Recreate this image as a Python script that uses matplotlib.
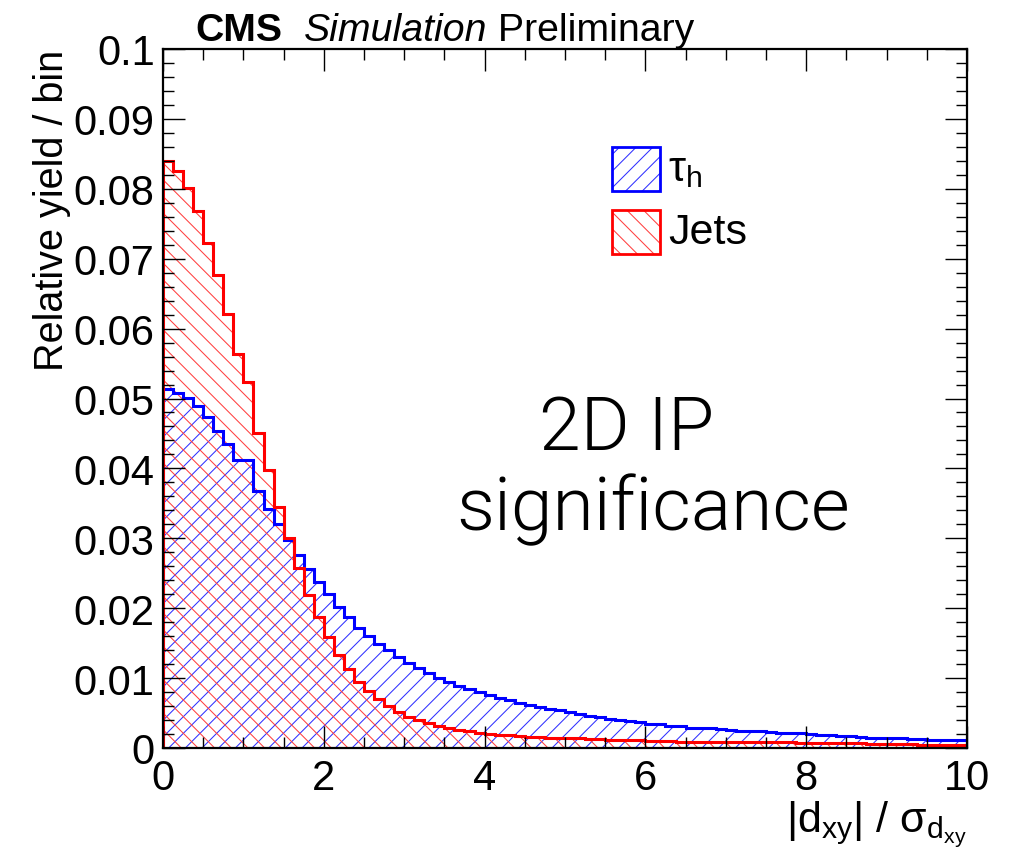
import numpy as np
import matplotlib
matplotlib.use("Agg")
import matplotlib.pyplot as plt
from matplotlib import font_manager
from matplotlib.patches import Rectangle
from matplotlib.ticker import MultipleLocator, FuncFormatter

# |d_xy| / sigma, 80 bins of 0.125 between 0 and 10
X_MIN, X_MAX, N_BINS = 0.0, 10.0, 80

tau_h = [
    0.0514, 0.0508, 0.0501, 0.0489, 0.0474, 0.0453, 0.0435, 0.0412, 0.0412, 0.0367,
    0.0342, 0.0320, 0.0297, 0.0276, 0.0256, 0.0238, 0.0220, 0.0202, 0.0188, 0.0172,
    0.0160, 0.0149, 0.0140, 0.0130, 0.0122, 0.0114, 0.0107, 0.0100, 0.0094, 0.0089,
    0.0084, 0.0080, 0.0076, 0.0072, 0.0068, 0.0065, 0.0061, 0.0058, 0.0056, 0.0054,
    0.0051, 0.0049, 0.0046, 0.0044, 0.0042, 0.0040, 0.0038, 0.0037, 0.0035, 0.0034,
    0.0032, 0.0031, 0.0029, 0.0028, 0.0028, 0.0027, 0.0026, 0.0025, 0.0024, 0.0024,
    0.0023, 0.0022, 0.0021, 0.0021, 0.0020, 0.0019, 0.0018, 0.0017, 0.0017, 0.0016,
    0.0015, 0.0015, 0.0014, 0.0014, 0.0013, 0.0013, 0.0012, 0.0012, 0.0011, 0.0011,
]

jets = [
    0.0840, 0.0825, 0.0801, 0.0768, 0.0723, 0.0676, 0.0621, 0.0564, 0.0524, 0.0450,
    0.0398, 0.0345, 0.0300, 0.0257, 0.0219, 0.0188, 0.0159, 0.0133, 0.0113, 0.0095,
    0.0081, 0.0070, 0.0060, 0.0052, 0.0045, 0.0040, 0.0036, 0.0032, 0.0029, 0.0026,
    0.0024, 0.0022, 0.0020, 0.0019, 0.0018, 0.0017, 0.0016, 0.0016, 0.0015, 0.0015,
    0.0014, 0.0014, 0.0013, 0.0013, 0.0012, 0.0012, 0.0011, 0.0011, 0.0010, 0.0010,
    0.0010, 0.0009, 0.0009, 0.0009, 0.0009, 0.0009, 0.0009, 0.0008, 0.0008, 0.0008,
    0.0008, 0.0008, 0.0008, 0.0007, 0.0007, 0.0007, 0.0007, 0.0007, 0.0007, 0.0007,
    0.0006, 0.0006, 0.0006, 0.0006, 0.0006, 0.0005, 0.0005, 0.0005, 0.0005, 0.0005,
]

labels = ["τ$_{\\mathrm{h}}$", "Jets"]
colors = ["#0000ff", "#ff0000"]
hatch_colors = ["#3030ff", "#ff4040"]
hatches = ["//", "\\\\"]

edges = np.linspace(X_MIN, X_MAX, N_BINS + 1)

SANS = "Liberation Sans"
plt.rcParams["font.family"] = [SANS, "DejaVu Sans"]
plt.rcParams["mathtext.fontset"] = "custom"
plt.rcParams["mathtext.rm"] = SANS
plt.rcParams["mathtext.it"] = SANS + ":italic"
plt.rcParams["hatch.linewidth"] = 0.75


def light_font():
    # pick a thin sans face for the big annotation if one is installed
    for fam in ["Roboto", "Open Sans", "Inter", "Lato", "Noto Sans"]:
        for f in font_manager.fontManager.ttflist:
            if f.name == fam and f.style == "normal" and f.weight in (200, 300, "light"):
                return font_manager.FontProperties(fname=f.fname)
    return font_manager.FontProperties(family=SANS)


W, H = 1012, 854
fig = plt.figure(figsize=(W / 100, H / 100), dpi=100)
ax = fig.add_axes([163 / W, 1 - 749 / H, 804 / W, 699 / H])

# hatched fills first, outlines on top
for vals, c, h in zip([tau_h, jets], hatch_colors, hatches):
    ax.stairs(vals, edges, fill=True, facecolor="none", edgecolor=c,
              hatch=h, linewidth=0)
for vals, c in zip([tau_h, jets], colors):
    ax.stairs(vals, edges, color=c, linewidth=2.2)

ax.set_xlim(X_MIN, X_MAX)
ax.set_ylim(0, 0.1)
ax.xaxis.set_major_locator(MultipleLocator(2))
ax.xaxis.set_minor_locator(MultipleLocator(0.5))
ax.yaxis.set_major_locator(MultipleLocator(0.01))
ax.yaxis.set_minor_locator(MultipleLocator(0.002))
ax.yaxis.set_major_formatter(FuncFormatter(lambda v, _: f"{v:g}"))
ax.xaxis.set_major_formatter(FuncFormatter(lambda v, _: f"{v:g}"))

ax.tick_params(which="both", direction="in", top=True, right=True,
               width=1.0, colors="black")
ax.tick_params(which="major", length=16, labelsize=30)
ax.tick_params(which="minor", length=8)
ax.tick_params(axis="y", which="major", pad=6)
ax.tick_params(axis="x", which="major", pad=7)
for sp in ax.spines.values():
    sp.set_linewidth(1.6)

# axis titles, ROOT style: pushed to the ends of the axes
fig.text(0.051, 1 - 50 / H, "Relative yield / bin", rotation=90,
         ha="center", va="top", fontsize=28.5)
fig.text(967 / W, 1 - 832 / H,
         "|d$_{\\mathrm{xy}}$| / σ$_{\\mathrm{d_{xy}}}$",
         ha="right", va="baseline", fontsize=31)

# legend boxes
box_x, box_w, box_h = 0.5585, 0.0597, 0.063
for i, (lab, c, hc, h) in enumerate(zip(labels, colors, hatch_colors, hatches)):
    y0 = 0.797 - i * 0.0903
    ax.add_patch(Rectangle((box_x, y0), box_w, box_h, transform=ax.transAxes,
                           facecolor="none", edgecolor=hc, hatch=h, linewidth=0))
    ax.add_patch(Rectangle((box_x, y0), box_w, box_h, transform=ax.transAxes,
                           facecolor="none", edgecolor=c, linewidth=2.0))
    ax.text(0.628, y0 + box_h / 2, lab, transform=ax.transAxes,
            ha="left", va="center", fontsize=31)

big = light_font()
big.set_size(54)
ax.text((627 - 163) / 804, (749 - 450) / 699, "2D IP",
        transform=ax.transAxes, ha="center", va="baseline", fontproperties=big)
ax.text((653 - 163) / 804, (749 - 530) / 699, "significance",
        transform=ax.transAxes, ha="center", va="baseline", fontproperties=big)

# CMS header: bold / italic / regular pieces laid end to end
fig.canvas.draw()
r = fig.canvas.get_renderer()
x = 195 / W
yb = 1 - 41 / H
for txt, kw in [("CMS", dict(weight="bold")), ("  ", {}),
                ("Simulation", dict(style="italic")), (" Preliminary", {})]:
    t = fig.text(x, yb, txt, ha="left", va="baseline", fontsize=28.3, **kw)
    bb = t.get_window_extent(renderer=r)
    x = bb.x1 / W if txt.strip() else x + bb.width / W

fig.savefig("out.png", dpi=100)
